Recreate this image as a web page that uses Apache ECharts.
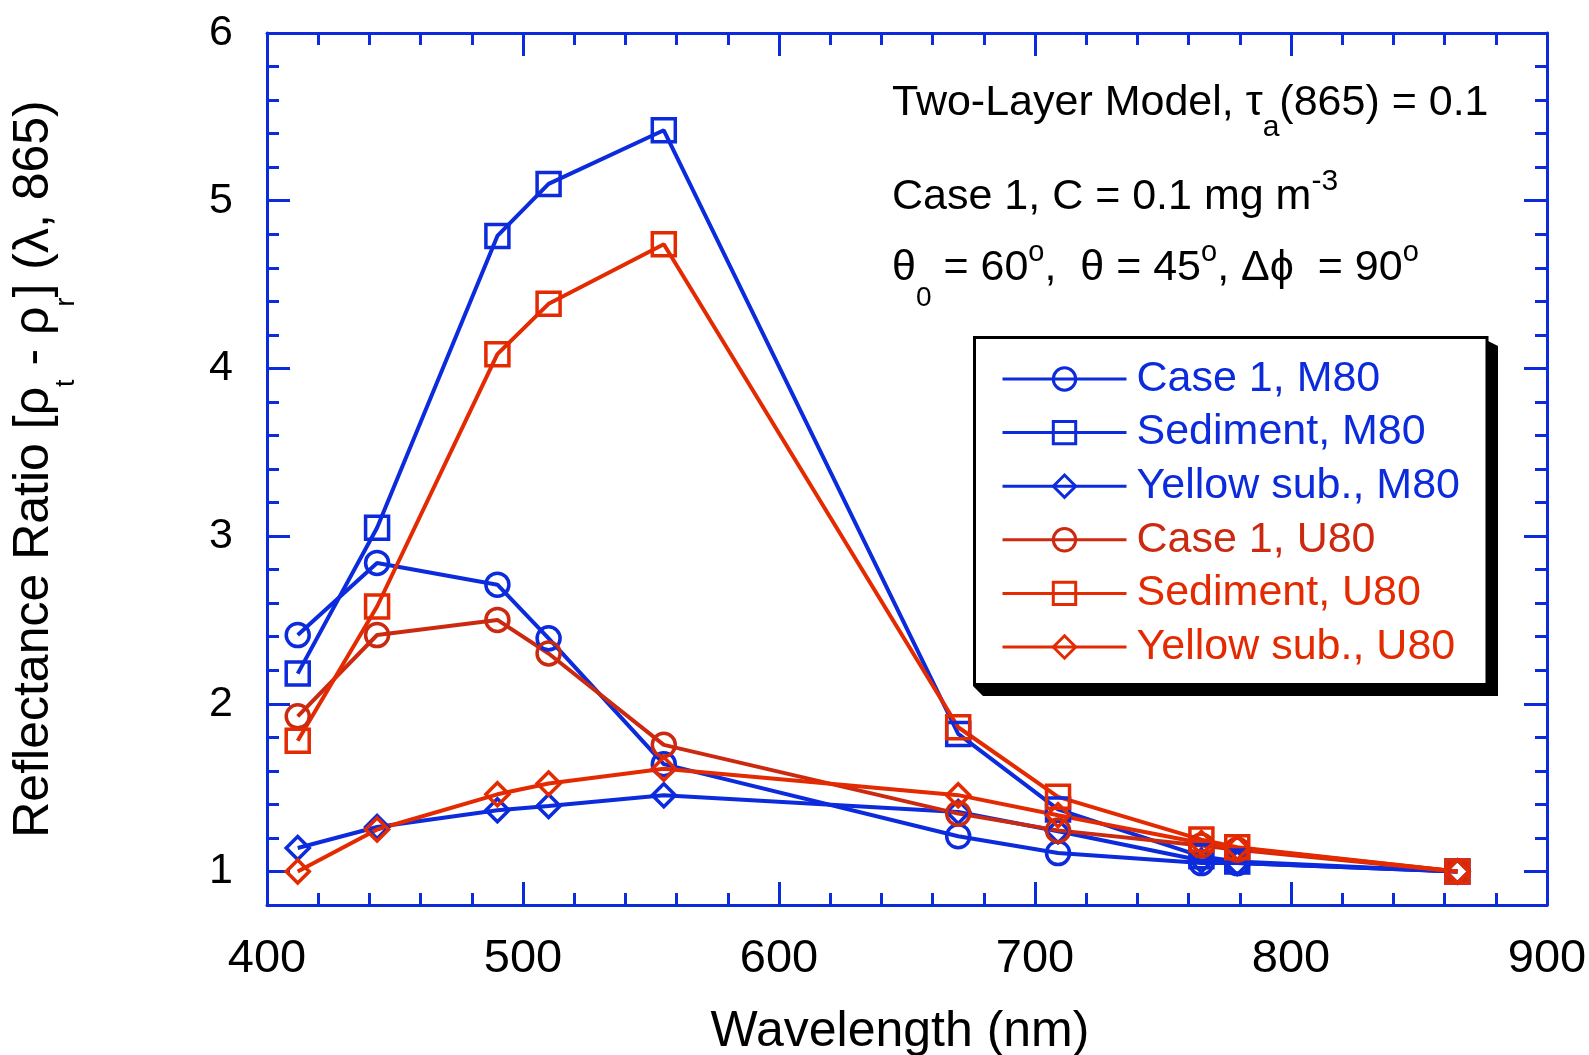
<!DOCTYPE html>
<html>
<head>
<meta charset="utf-8">
<title>Reflectance Ratio vs Wavelength</title>
<script src="https://cdn.jsdelivr.net/npm/echarts@6/dist/echarts.min.js"></script>
<style>
  html, body { margin: 0; padding: 0; background: #ffffff; }
  #chart { width: 1589px; height: 1055px; }
</style>
</head>
<body>
<div id="chart"></div>
<script>
// Band centres (nm)
const wavelengths = [412, 443, 490, 510, 555, 670, 709, 765, 779, 865];

// Reflectance ratio [rho_t - rho_r](lambda, 865) for each water type and aerosol model
const case1M80    = [2.41, 2.84, 2.71, 2.39, 1.64, 1.21, 1.11, 1.05, 1.05, 1.00];
const sedimentM80 = [2.18, 3.05, 4.79, 5.10, 5.42, 1.82, 1.37, 1.09, 1.06, 1.00];
const yellowM80   = [1.14, 1.265, 1.365, 1.39, 1.455, 1.355, 1.24, 1.065, 1.05, 1.00];
const case1U80    = [1.925, 2.41, 2.50, 2.30, 1.755, 1.345, 1.245, 1.155, 1.13, 1.00];
const sedimentU80 = [1.78, 2.58, 4.085, 4.385, 4.74, 1.86, 1.445, 1.19, 1.145, 1.00];
const yellowU80   = [1.00, 1.25, 1.46, 1.525, 1.612, 1.455, 1.335, 1.17, 1.14, 1.00];

const seriesNames = [
  'Case 1, M80', 'Sediment, M80', 'Yellow sub., M80',
  'Case 1, U80', 'Sediment, U80', 'Yellow sub., U80'
];
const seriesValues = [case1M80, sedimentM80, yellowM80, case1U80, sedimentU80, yellowU80];
const seriesSymbols = ['circle', 'rect', 'diamond', 'circle', 'rect', 'diamond'];

const xMin = 400, xMax = 900, xStep = 100;
const yMin = 0.8, yMax = 6;

const BLUE = '#0b2bdc';
const RED = '#e42a00';
const DARK_RED = '#cc2a10';
const seriesColors = [BLUE, BLUE, BLUE, DARK_RED, RED, RED];

const FONT = '"Liberation Sans", Arial, Helvetica, sans-serif';

const chart = echarts.init(document.getElementById('chart'), null, { renderer: 'canvas' });

const frameLine = { show: true, onZero: false, lineStyle: { color: BLUE, width: 3 } };
const majorTick = { show: true, inside: true, length: 23, lineStyle: { color: BLUE, width: 3 } };
const minorTick = { show: true, splitNumber: 5, length: 12, lineStyle: { color: BLUE, width: 3 } };

function xAxisDef(position, withLabels) {
  const ax = {
    type: 'value', position: position, min: xMin, max: xMax, interval: xStep,
    axisLine: frameLine, axisTick: majorTick, minorTick: minorTick,
    splitLine: { show: false },
    axisLabel: {
      show: withLabels, margin: 31, color: '#000', fontFamily: FONT,
      fontSize: 47, lineHeight: 47
    }
  };
  if (withLabels) {
    ax.name = 'Wavelength (nm)';
    ax.nameLocation = 'middle';
    ax.nameGap = 102;
    ax.nameTextStyle = { color: '#000', fontFamily: FONT, fontSize: 50, lineHeight: 50, padding: [0, 14, 0, 0] };
  }
  return ax;
}

function yAxisDef(position, withLabels) {
  const ax = {
    type: 'value', position: position, min: yMin, max: yMax, splitNumber: 5,
    axisLine: frameLine, axisTick: majorTick, minorTick: minorTick,
    splitLine: { show: false },
    axisLabel: {
      show: withLabels, margin: 34, color: '#000', fontFamily: FONT, fontSize: 43,
      formatter: function (v) { return Math.abs(v - Math.round(v)) < 1e-9 ? String(Math.round(v)) : ''; }
    }
  };
  if (withLabels) {
    ax.name = '{n|Reflectance Ratio [ρ}{s|t}{n| - ρ}{s|r}{n|] (λ, 865)}';
    ax.nameLocation = 'middle';
    ax.nameRotate = 90;
    ax.nameGap = 183;
    ax.nameTextStyle = {
      color: '#000', fontFamily: FONT,
      rich: {
        n: { fontSize: 50, fontFamily: FONT, color: '#000', lineHeight: 75, verticalAlign: 'top' },
        s: { fontSize: 27, fontFamily: FONT, color: '#000', lineHeight: 75, verticalAlign: 'top', padding: [44, 0, 0, 0] }
      }
    };
  }
  return ax;
}

const series = seriesNames.map(function (name, i) {
  return {
    name: name,
    type: 'line',
    xAxisIndex: 0,
    yAxisIndex: 0,
    data: wavelengths.map(function (w, j) { return [w, seriesValues[i][j]]; }),
    symbol: seriesSymbols[i],
    symbolSize: 23,
    showAllSymbol: true,
    color: seriesColors[i],
    lineStyle: { color: seriesColors[i], width: 4 },
    itemStyle: { color: 'rgba(255,255,255,0)', borderColor: seriesColors[i], borderWidth: 3.5 },
    emphasis: { disabled: true },
    animation: false
  };
});

// rich-text styles for the annotation block
const annN = { fontSize: 43, fontFamily: FONT, fill: '#000', lineHeight: 100, verticalAlign: 'top', padding: [20, 0, 0, 0] };
function annSub(size, top) {
  return { fontSize: size, fontFamily: FONT, fill: '#000', lineHeight: 100, verticalAlign: 'top', padding: [top, 0, 0, 0] };
}

const option = {
  backgroundColor: '#ffffff',
  animation: false,
  grid: { left: 267, top: 33, right: 42, bottom: 150, containLabel: false, outerBoundsMode: 'none' },
  xAxis: [xAxisDef('bottom', true), xAxisDef('top', false)],
  yAxis: [yAxisDef('left', true), yAxisDef('right', false)],
  legend: {
    orient: 'vertical',
    left: 1001,
    top: 357,
    padding: 0,
    itemGap: 9.6,
    itemWidth: 124,
    itemHeight: 28,
    selectedMode: false,
    lineStyle: { width: 3 },
    itemStyle: { borderWidth: 3 },
    textStyle: { fontFamily: FONT, fontSize: 43, lineHeight: 44, padding: [0, 0, 0, 5] },
    data: seriesNames.map(function (n, i) {
      return { name: n, textStyle: { color: seriesColors[i] } };
    }),
    z: 10
  },
  graphic: [
    // legend frame with its drop shadow
    {
      type: 'polygon', z: 5,
      shape: { points: [[1478, 336], [1498, 346], [1498, 696], [983, 696], [973, 686], [1488, 686]] },
      style: { fill: '#000' }
    },
    {
      type: 'rect', z: 6,
      shape: { x: 974.5, y: 337.5, width: 1512 - 974.5 - 25, height: 684.5 - 337.5 },
      style: { fill: '#fff', stroke: '#000', lineWidth: 3 }
    },
    {
      type: 'text', z: 8, x: 892, y: 62,
      style: {
        text: '{n|Two-Layer Model, τ}{s|a}{n|(865) = 0.1}',
        rich: { n: annN, s: annSub(30, 51) }
      }
    },
    {
      type: 'text', z: 8, x: 892, y: 156,
      style: {
        text: '{n|Case 1, C = 0.1 mg m}{p|-3}',
        rich: { n: annN, p: annSub(30, 11) }
      }
    },
    {
      type: 'text', z: 8, x: 892, y: 227,
      style: {
        text: '{n|θ}{s|0}{n| = 60}{p|o}{n|,  θ = 45}{p|o}{n|, Δϕ  = 90}{p|o}',
        rich: { n: annN, s: annSub(28, 57), p: annSub(29, 11) }
      }
    }
  ],
  series: series
};

chart.setOption(option);
</script>
</body>
</html>
